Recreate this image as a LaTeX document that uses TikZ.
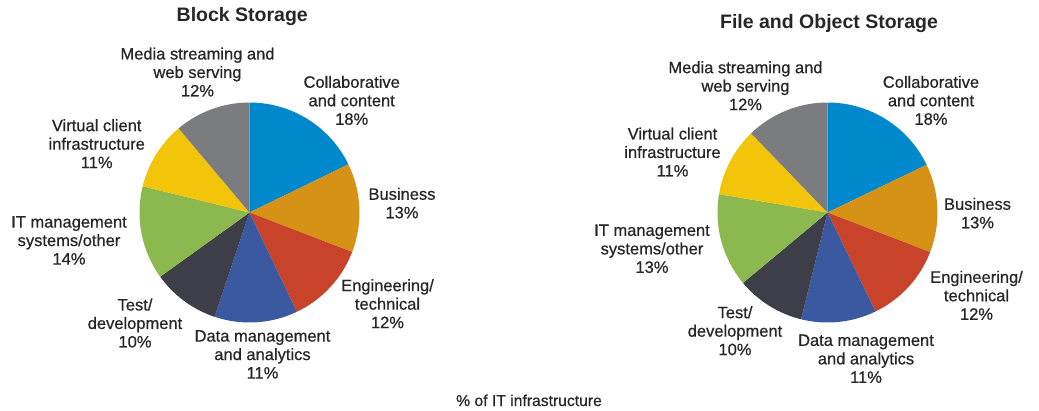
\documentclass[tikz,border=0pt]{standalone}
\usepackage{fontspec}
\setmainfont{Liberation Sans}
\newfontfamily\lblfont{Liberation Sans}[FakeBold=0.6]

\definecolor{cblue}{RGB}{0,136,204}
\definecolor{corange}{RGB}{214,146,22}
\definecolor{cred}{RGB}{201,67,43}
\definecolor{cnavy}{RGB}{58,89,160}
\definecolor{cdark}{RGB}{62,62,72}
\definecolor{cgreen}{RGB}{139,184,79}
\definecolor{cyellow}{RGB}{242,196,10}
\definecolor{cgray}{RGB}{123,124,128}

% \slice{centre}{from}{to}{colour}
\newcommand{\slice}[4]{\fill[#4] (#1) -- ++(#2:110pt) arc[start angle=#2, end angle=#3, radius=110pt] -- cycle;}

\tikzset{
  lbl/.style={align=center, inner sep=0pt, anchor=north, text=black!85,
    font=\lblfont\fontsize{16.5}{18.5}\selectfont},
  ttl/.style={inner sep=0pt, anchor=base, text=black!85,
    font=\bfseries\fontsize{19.5}{22}\selectfont}
}

\begin{document}
\begin{tikzpicture}[x=1pt,y=1pt]
  \useasboundingbox (0,0) rectangle (1039,-410);
  \coordinate (L) at (249.5,-212.5);
  \coordinate (R) at (827.5,-212.5);

  % block storage
  \slice{L}{90}{26}{cblue}
  \slice{L}{26}{-21}{corange}
  \slice{L}{-21}{-64.5}{cred}
  \slice{L}{-64.5}{-108.5}{cnavy}
  \slice{L}{-108.5}{-144.3}{cdark}
  \slice{L}{-144.3}{-193.8}{cgreen}
  \slice{L}{-193.8}{-229.9}{cyellow}
  \slice{L}{-229.9}{-270}{cgray}

  % file and object storage
  \slice{R}{90}{25.7}{cblue}
  \slice{R}{25.7}{-21.1}{corange}
  \slice{R}{-21.1}{-64.1}{cred}
  \slice{R}{-64.1}{-103.9}{cnavy}
  \slice{R}{-103.9}{-140.2}{cdark}
  \slice{R}{-140.2}{-189.6}{cgreen}
  \slice{R}{-189.6}{-226}{cyellow}
  \slice{R}{-226}{-270}{cgray}

  \node[ttl] (titleL) at (242.3,-21) {Block Storage};
  \node[ttl] (titleR) at (829,-28) {File and Object Storage};

  \node[lbl] (mediaL) at (197.5,-47.3) {Media streaming and\\web serving\\12\%};
  \node[lbl] (collabL) at (351.7,-75.6) {Collaborative\\and content\\18\%};
  \node[lbl] (busL) at (402,-187.6) {Business\\13\%};
  \node[lbl] (engL) at (387.5,-279) {Engineering/\\technical\\12\%};
  \node[lbl] (dataL) at (262.5,-330) {Data management\\and analytics\\11\%};
  \node[lbl] (testL) at (135,-298.3) {Test/\\development\\10\%};
  \node[lbl] (itmL) at (69,-216) {IT management\\systems/other\\14\%};
  \node[lbl] (virtL) at (96.7,-119) {Virtual client\\infrastructure\\11\%};

  \node[lbl] (mediaR) at (745.5,-61) {Media streaming and\\web serving\\12\%};
  \node[lbl] (collabR) at (931,-75.6) {Collaborative\\and content\\18\%};
  \node[lbl] (busR) at (977.5,-197.6) {Business\\13\%};
  \node[lbl] (engR) at (976.5,-270.6) {Engineering/\\technical\\12\%};
  \node[lbl] (dataR) at (866,-334.3) {Data management\\and analytics\\11\%};
  \node[lbl] (testR) at (735,-306) {Test/\\development\\10\%};
  \node[lbl] (itmR) at (652,-224.3) {IT management\\systems/other\\13\%};
  \node[lbl] (virtR) at (672.5,-127.3) {Virtual client\\infrastructure\\11\%};

  \node[ttl, font=\lblfont\fontsize{15.7}{18}\selectfont] (axis) at (529,-406) {\% of IT infrastructure};
\end{tikzpicture}
\end{document}
